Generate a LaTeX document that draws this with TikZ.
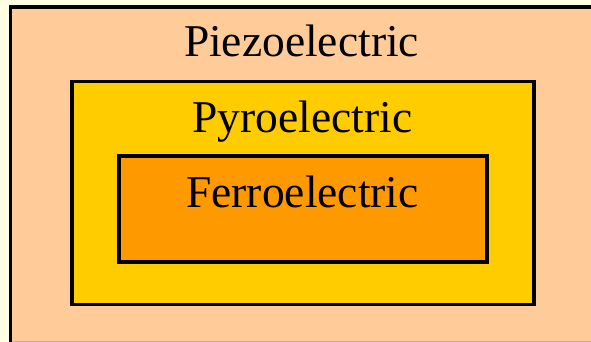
\documentclass[tikz,border=0pt]{standalone}
\usepackage{fontspec}
\setmainfont{Liberation Serif}
\usepackage{xcolor}

\definecolor{paleback}{HTML}{FFFFE3}
\definecolor{piezofill}{HTML}{FFCC99}
\definecolor{pyrofill}{HTML}{FFCC00}
\definecolor{ferrofill}{HTML}{FF9900}

\tikzset{
  classlabel/.style={anchor=base, inner sep=0pt, font=\fontsize{45.5}{52}\selectfont},
  classbox/.style={draw=black, line width=3.2pt}
}

\begin{document}
\begin{tikzpicture}[x=1pt, y=-1pt]
\useasboundingbox (0,0) rectangle (591,342);
\begin{scope}
\clip (0,0) rectangle (591,342);
% Draw the background and the outer box
\fill[paleback] (0,0) rectangle (591,342);
\draw[classbox, fill=piezofill] (10.5,7) rectangle (620,360);
\draw[gray!60, line width=0.8pt] (12,341.4) -- (591,341.4);

% Draw the two inner boxes
\draw[classbox, fill=pyrofill] (72,81.5) rectangle (534,304.5);
\draw[classbox, fill=ferrofill] (119,156) rectangle (487,262);
\end{scope}

\node[classlabel] (piezo) at (301.5,57) {Piezoelectric};
\node[classlabel] (pyro) at (302.5,132) {Pyroelectric};
\node[classlabel] (ferro) at (302.5,207) {Ferroelectric};

\end{tikzpicture}
\end{document}
